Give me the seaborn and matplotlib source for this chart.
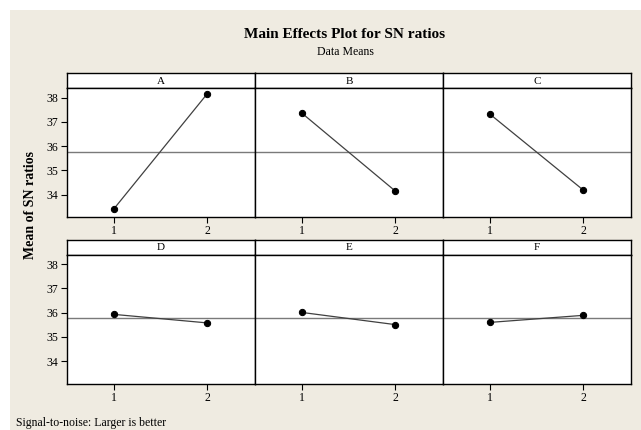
import numpy as np
import pandas as pd
import matplotlib
matplotlib.use("Agg")
import matplotlib.pyplot as plt
import seaborn as sns
from matplotlib.patches import Rectangle

factors = ["A", "B", "C", "D", "E", "F"]
levels = [1, 2]
sn_means = {
    "A": [33.42, 38.15],
    "B": [37.36, 34.16],
    "C": [37.32, 34.20],
    "D": [35.93, 35.58],
    "E": [36.01, 35.51],
    "F": [35.60, 35.89],
}
y_ticks = [34, 35, 36, 37, 38]

rows = []
for f in factors:
    for lv, v in zip(levels, sn_means[f]):
        rows.append({"factor": f, "level": lv, "sn": v})
df = pd.DataFrame(rows)
grand_mean = df.groupby("factor")["sn"].mean().mean()

sns.set_style("white")
plt.rcParams["font.family"] = ["Liberation Serif", "DejaVu Serif"]
plt.rcParams["text.color"] = "black"
plt.rcParams["xtick.color"] = "black"
plt.rcParams["ytick.color"] = "black"

W, H = 641, 430
fig = plt.figure(figsize=(W / 100, H / 100), dpi=100, facecolor="white")
bg = "#efebe1"
fig.patches.append(Rectangle((10 / W, 0), 1, 1 - 10 / H, transform=fig.transFigure,
                             facecolor=bg, edgecolor="none", zorder=-10))

def px(x0, y0, w, h):
    # pixel box (from top-left) -> figure fraction
    return [x0 / W, 1 - (y0 + h) / H, w / W, h / H]

left, pw = 67, 188
rows_y = [(72.5, 88, 217), (239.5, 254.5, 383.5)]

for i, f in enumerate(factors):
    r, c = divmod(i, 3)
    st, top, bot = rows_y[r]
    x0 = left + c * pw
    sax = fig.add_axes(px(x0, st, pw, top - st))
    sax.set_facecolor("white")
    sax.set_xticks([]); sax.set_yticks([])
    for s in sax.spines.values():
        s.set_linewidth(1.0); s.set_color("black")
    sax.text(0.5, 0.45, f, ha="center", va="center", fontsize=8, transform=sax.transAxes)

    ax = fig.add_axes(px(x0, top, pw, bot - top))
    ax.set_facecolor("white")
    sub = df[df["factor"] == f]
    ax.axhline(grand_mean, color="#7a7a7a", lw=1.0, zorder=1)
    sns.lineplot(data=sub, x="level", y="sn", ax=ax, color="#404040", lw=0.9,
                 marker="o", markersize=4.5, markerfacecolor="black",
                 markeredgecolor="black", zorder=3)
    ax.set_xlim(0.495, 2.516)
    ax.set_ylim(33.08, 38.4)
    ax.set_xticks(levels)
    ax.set_xlabel(""); ax.set_ylabel("")
    for s in ax.spines.values():
        s.set_linewidth(1.0); s.set_color("black")
    ax.tick_params(axis="both", direction="out", length=4, width=0.8,
                   labelsize=8.5, pad=2, bottom=True)
    ax.set_xticklabels([str(l) for l in levels])
    ax.set_yticks(y_ticks)
    if c == 0:
        ax.tick_params(axis="y", left=True)
    else:
        ax.tick_params(axis="y", left=False, labelleft=False)

fig.text(345 / W, 1 - 35 / H, "Main Effects Plot for SN ratios", ha="center", va="center",
         fontsize=11, fontweight="bold")
fig.text(345 / W, 1 - 52 / H, "Data Means", ha="center", va="center", fontsize=8.5)
fig.text(30 / W, 1 - 205 / H, "Mean of SN ratios", ha="center", va="center",
         rotation=90, fontsize=10, fontweight="bold")
fig.text(16 / W, 1 - 423 / H, "Signal-to-noise: Larger is better", ha="left", va="center",
         fontsize=8.5)

fig.savefig("out.png", dpi=100, facecolor="white")
